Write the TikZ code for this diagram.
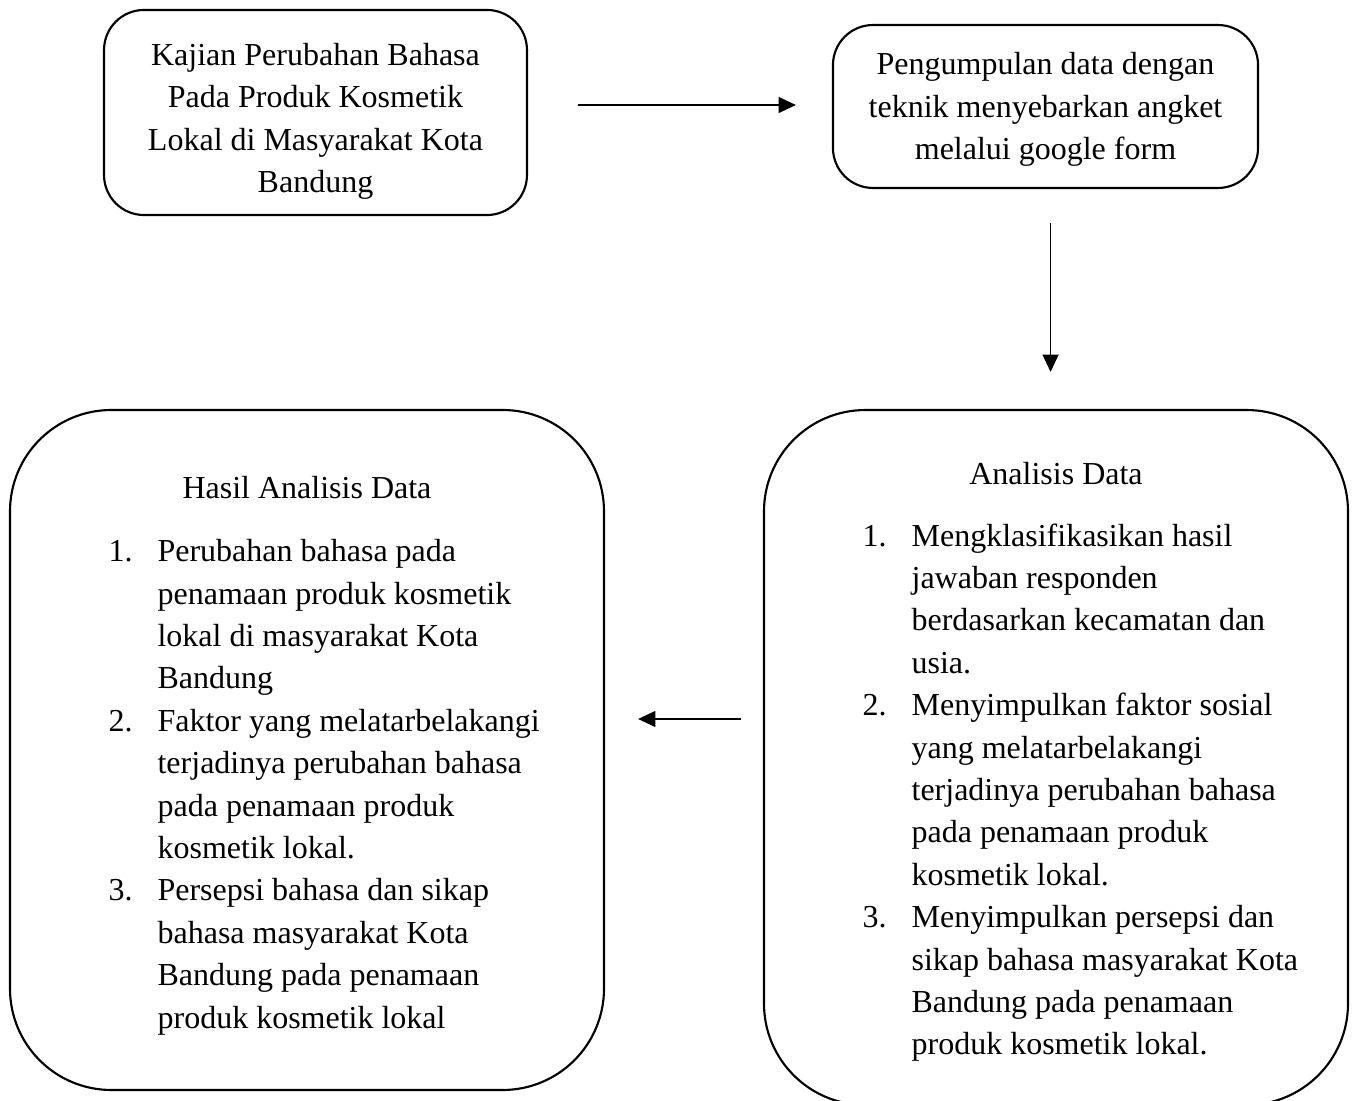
\documentclass[tikz,border=0pt]{standalone}
\usepackage{fontspec}
\setmainfont{Liberation Serif}
\usepackage{tikz}
\usetikzlibrary{arrows.meta,positioning}

\newcommand{\itemno}[1]{\makebox[18.4pt][l]{#1}}
\newcommand{\hangin}{\hspace*{18.4pt}}

\begin{document}
\begin{tikzpicture}[
  x=0.375pt, y=-0.375pt,
  font=\fontsize{12}{15.9}\selectfont,
  box/.style={rectangle, rounded corners=15pt, draw=black, line width=0.8pt, inner sep=0pt},
  bigbox/.style={box, rounded corners=38pt},
  boxtext/.style={align=center, inner sep=0pt},
  listtext/.style={anchor=north west, align=left, inner sep=0pt},
  arrow/.style={-{Triangle[length=6.5pt,width=6pt]}, line width=0.55pt}
]
\useasboundingbox (0,0) rectangle (1355,1101);

% top row
\node[box, minimum width=158.6pt, minimum height=76.9pt] (kajian) at (315.5,112.5) {};
\node[boxtext] (kajiantext) at (315.5,121.5)
  {Kajian Perubahan Bahasa\\Pada Produk Kosmetik\\Lokal di Masyarakat Kota\\Bandung};
\node[box, minimum width=159.4pt, minimum height=61.1pt] (pengumpulan) at (1045.5,106.5) {};
\node[boxtext] (pengumpulantext) at (1045.5,109.5)
  {Pengumpulan data dengan\\teknik menyebarkan angket\\melalui google form};

% bottom row
\node[bigbox, minimum width=222.75pt, minimum height=255pt] (hasil) at (307,750) {};
\node[bigbox, minimum width=219pt, minimum height=260.6pt] (analisis) at (1056,757.5) {};

\node[anchor=base, inner sep=0pt] (hasiltitle) at (307,499) {Hasil Analisis Data};
\node[listtext] (hasillist) at (108,539) {%
  \itemno{1.}Perubahan bahasa pada\\
  \hangin penamaan produk kosmetik\\
  \hangin lokal di masyarakat Kota\\
  \hangin Bandung\\
  \itemno{2.}Faktor yang melatarbelakangi\\
  \hangin terjadinya perubahan bahasa\\
  \hangin pada penamaan produk\\
  \hangin kosmetik lokal.\\
  \itemno{3.}Persepsi bahasa dan sikap\\
  \hangin bahasa masyarakat Kota\\
  \hangin Bandung pada penamaan\\
  \hangin produk kosmetik lokal};

\node[anchor=base, inner sep=0pt] (analisistitle) at (1056,485) {Analisis Data};
\node[listtext] (analisislist) at (862,523) {%
  \itemno{1.}Mengklasifikasikan hasil\\
  \hangin jawaban responden\\
  \hangin berdasarkan kecamatan dan\\
  \hangin usia.\\
  \itemno{2.}Menyimpulkan faktor sosial\\
  \hangin yang melatarbelakangi\\
  \hangin terjadinya perubahan bahasa\\
  \hangin pada penamaan produk\\
  \hangin kosmetik lokal.\\
  \itemno{3.}Menyimpulkan persepsi dan\\
  \hangin sikap bahasa masyarakat Kota\\
  \hangin Bandung pada penamaan\\
  \hangin produk kosmetik lokal.};

% arrows
\draw[arrow, shorten <=18.75pt, shorten >=13.5pt] (kajian.east |- 0,105) -- (pengumpulan.west |- 0,105);
\draw[arrow, shorten <=12.75pt, shorten >=13.9pt] ([xshift=1.9pt]pengumpulan.south) -- ([xshift=1.9pt]pengumpulan.south |- analisis.north);
\draw[arrow, shorten <=8.25pt, shorten >=12.4pt] (analisis.west |- 0,719) -- (hasil.east |- 0,719);
\end{tikzpicture}
\end{document}
